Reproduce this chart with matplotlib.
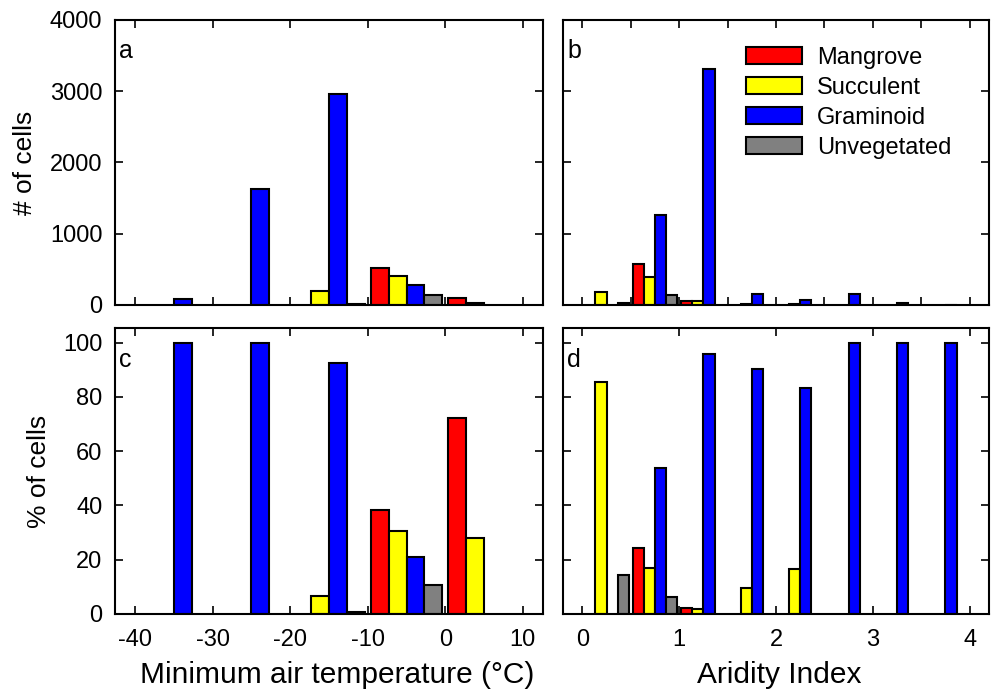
import numpy as np
import matplotlib
matplotlib.use('Agg')
import matplotlib.pyplot as plt
import matplotlib.patches as mpatches

plt.rcParams['font.family'] = ['Liberation Sans', 'DejaVu Sans']
plt.rcParams['axes.unicode_minus'] = False

# Classes and colours
classes = ['Mangrove', 'Succulent', 'Graminoid', 'Unvegetated']
colors = ['#FF0000', '#FFFF00', '#0000FF', '#808080']

# Minimum air temperature bins (centres, 10 degC wide)
temp_bins = [-35, -25, -15, -5, 5]
temp_count_mangrove = [0, 0, 0, 525, 97]
temp_count_succulent = [0, 0, 200, 410, 35]
temp_count_graminoid = [90, 1630, 2960, 280, 0]
temp_count_unveg = [0, 0, 20, 136, 0]

temp_pct_mangrove = [0, 0, 0, 38.5, 72.2]
temp_pct_succulent = [0, 0, 6.6, 30.6, 28.0]
temp_pct_graminoid = [100, 100, 92.6, 20.9, 0]
temp_pct_unveg = [0, 0, 0.9, 10.6, 0]

# Aridity index bins (centres, 0.5 wide)
arid_bins = [0.25, 0.75, 1.25, 1.75, 2.25, 2.75, 3.25, 3.75]
arid_count_mangrove = [0, 573, 56, 0, 0, 0, 0, 0]
arid_count_succulent = [188, 394, 52, 16, 15, 0, 0, 0]
arid_count_graminoid = [0, 1268, 3310, 150, 75, 150, 28, 5]
arid_count_unveg = [32, 136, 0, 0, 0, 0, 0, 0]

arid_pct_mangrove = [0, 24.4, 2.3, 0, 0, 0, 0, 0]
arid_pct_succulent = [85.6, 16.8, 1.8, 9.7, 16.7, 0, 0, 0]
arid_pct_graminoid = [0, 53.7, 96.0, 90.3, 83.3, 100, 100, 100]
arid_pct_unveg = [14.4, 6.1, 0, 0, 0, 0, 0, 0]


def draw_groups(ax, bins, series, bin_width):
    bar_w = 0.23 * bin_width
    bins = np.asarray(bins, dtype=float)
    for i, (vals, col) in enumerate(zip(series, colors)):
        vals = np.asarray(vals, dtype=float)
        keep = vals > 0
        x = bins + (i - 1.5) * bar_w
        ax.bar(x[keep], vals[keep], width=bar_w, color=col,
               edgecolor='black', linewidth=1.5, zorder=2)


def style_axis(ax, letter):
    ax.tick_params(direction='in', top=True, right=True, length=6, width=1.2,
                   labelsize=17, pad=11)
    ax.tick_params(axis='y', pad=9)
    for sp in ax.spines.values():
        sp.set_linewidth(1.5)
    ax.text(0.01, 0.865, letter, transform=ax.transAxes, fontsize=18,
            va='baseline', ha='left')


fig = plt.figure(figsize=(9.92, 6.95), dpi=100)
L1, R1 = 115 / 992, 543 / 992
L2, R2 = 563 / 992, 989 / 992
T1, B1 = 1 - 20 / 695, 1 - 305 / 695
T2, B2 = 1 - 328 / 695, 1 - 614 / 695

ax_a = fig.add_axes([L1, B1, R1 - L1, T1 - B1])
ax_b = fig.add_axes([L2, B1, R2 - L2, T1 - B1])
ax_c = fig.add_axes([L1, B2, R1 - L1, T2 - B2])
ax_d = fig.add_axes([L2, B2, R2 - L2, T2 - B2])

draw_groups(ax_a, temp_bins, [temp_count_mangrove, temp_count_succulent,
                              temp_count_graminoid, temp_count_unveg], 10)
draw_groups(ax_c, temp_bins, [temp_pct_mangrove, temp_pct_succulent,
                              temp_pct_graminoid, temp_pct_unveg], 10)
draw_groups(ax_b, arid_bins, [arid_count_mangrove, arid_count_succulent,
                              arid_count_graminoid, arid_count_unveg], 0.5)
draw_groups(ax_d, arid_bins, [arid_pct_mangrove, arid_pct_succulent,
                              arid_pct_graminoid, arid_pct_unveg], 0.5)

for ax in (ax_a, ax_c):
    ax.set_xlim(-42.6, 12.6)
    ax.set_xticks([-40, -30, -20, -10, 0, 10])
for ax in (ax_b, ax_d):
    ax.set_xlim(-0.2, 4.2)
for ax in (ax_a, ax_b):
    ax.set_ylim(0, 4000)
    ax.set_yticks([0, 1000, 2000, 3000, 4000])
for ax in (ax_c, ax_d):
    ax.set_ylim(0, 105.4)
    ax.set_yticks([0, 20, 40, 60, 80, 100])

ax_b.set_xticks(np.arange(0, 4.01, 0.5))
ax_d.set_xticks([0, 1, 2, 3, 4])

for ax, letter in zip((ax_a, ax_b, ax_c, ax_d), 'abcd'):
    style_axis(ax, letter)
ax_a.tick_params(labelbottom=False)
ax_b.tick_params(labelbottom=False, labelleft=False)
ax_d.tick_params(labelleft=False)

ax_a.set_ylabel('# of cells', fontsize=19, labelpad=9)
ax_c.set_ylabel('% of cells', fontsize=19, labelpad=9)
ax_c.set_xlabel('Minimum air temperature (\u00b0C)', fontsize=21.5, labelpad=5)
ax_d.set_xlabel('Aridity Index', fontsize=21.5, labelpad=5)
ax_c.xaxis.set_label_coords(0.52, -0.165)
ax_d.xaxis.set_label_coords(0.508, -0.165)

handles = [mpatches.Patch(facecolor=c, edgecolor='black', linewidth=1.5, label=n)
           for c, n in zip(colors, classes)]
ax_b.legend(handles=handles, loc='upper left', bbox_to_anchor=(0.43, 0.905),
            frameon=False, fontsize=17, handlelength=2.37, handleheight=0.72,
            handletextpad=0.64, labelspacing=0.34, borderpad=0, borderaxespad=0)

fig.savefig('out.png', dpi=100)
